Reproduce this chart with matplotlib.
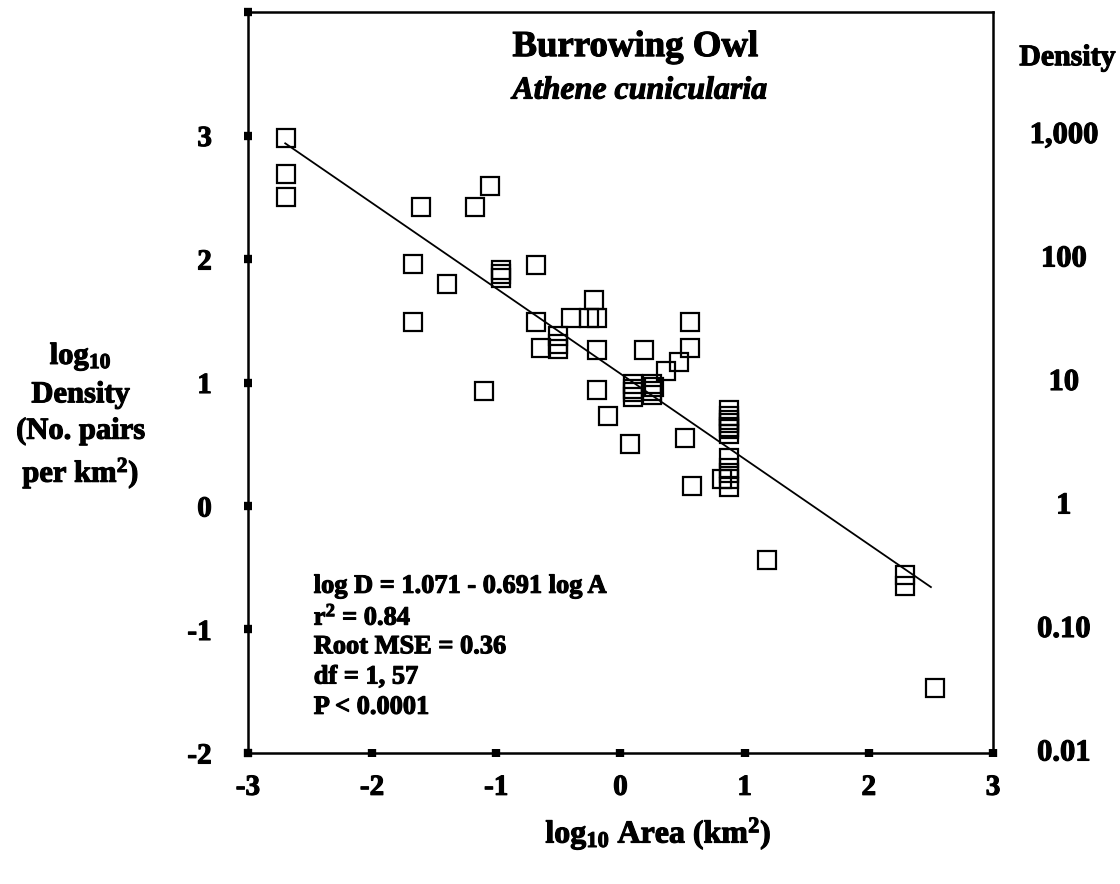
import matplotlib
matplotlib.use("Agg")
import matplotlib.pyplot as plt
import matplotlib.transforms as mtransforms
import matplotlib.patheffects as pe
import numpy as np

plt.rcParams["font.family"] = ["Liberation Serif", "DejaVu Serif"]
plt.rcParams["font.weight"] = "bold"
plt.rcParams["mathtext.fontset"] = "custom"
plt.rcParams["mathtext.rm"] = "Liberation Serif:bold"
plt.rcParams["mathtext.bf"] = "Liberation Serif:bold"
plt.rcParams["mathtext.it"] = "Liberation Serif:bold:italic"
plt.rcParams["axes.unicode_minus"] = False

# log10 area (km2) and log10 density (pairs per km2)
log_area = [
    -2.69, -2.69, -2.69, -1.61, -1.17, -1.05, -1.67, -1.40, -0.96, -0.96,
    -0.96, -0.68, -1.67, -0.68, -0.64, -0.50, -0.50, -0.50, -0.40, -0.25,
    -0.19, -0.21, -1.10, -0.19, -0.19, 0.19, -0.10, 0.08, 0.10, 0.10,
    0.10, 0.10, 0.25, 0.25, 0.25, 0.27, 0.37, 0.47, 0.56, 0.56,
    0.52, 0.58, 0.87, 0.87, 0.87, 0.87, 0.87, 0.87, 0.87, 0.87,
    0.87, 0.87, 0.87, 0.82, 1.18, 2.29, 2.29, 2.53, 0.87,
]
log_density = [
    2.98, 2.69, 2.50, 2.42, 2.42, 2.59, 1.96, 1.80, 1.91, 1.85,
    1.88, 1.95, 1.49, 1.49, 1.28, 1.38, 1.27, 1.31, 1.52, 1.52,
    1.52, 1.67, 0.93, 1.26, 0.94, 1.26, 0.73, 0.50, 0.99, 0.95,
    0.92, 0.88, 0.99, 0.93, 0.90, 0.96, 1.09, 1.17, 1.49, 1.28,
    0.55, 0.16, 0.78, 0.73, 0.70, 0.67, 0.64, 0.62, 0.58, 0.39,
    0.31, 0.22, 0.15, 0.22, -0.44, -0.56, -0.65, -1.47, 0.27,
]

intercept = 1.071
slope = -0.691
fit_range = [-2.70, 2.50]

x_ticks = [-3, -2, -1, 0, 1, 2, 3]
y_ticks = [-2, -1, 0, 1, 2, 3, 4]
y_tick_labels = ["-2", "-1", "0", "1", "2", "3", ""]
right_values = [3, 2, 1, 0, -1, -2]
right_labels = ["1,000", "100", "10", "1", "0.10", "0.01"]

stats_lines = [
    "log D = 1.071 - 0.691 log A",
    r"r$^{2}$ = 0.84",
    "Root MSE = 0.36",
    "df = 1, 57",
    "P < 0.0001",
]

fig = plt.figure(figsize=(11.2, 8.84), dpi=100)
ax = fig.add_axes([0.2214, 0.1482, 0.6652, 0.8382])

ax.plot(log_area, log_density, linestyle="none", marker="s", markersize=13,
        markerfacecolor="none", markeredgecolor="black", markeredgewidth=1.6)

fx = np.array(fit_range)
ax.plot(fx, intercept + slope * fx, color="black", linewidth=1.3)

ax.set_xlim(-3, 3)
ax.set_ylim(-2, 4)
ax.set_xticks(x_ticks)
ax.set_xticklabels([str(v) for v in x_ticks])
ax.set_yticks(y_ticks)
ax.set_yticklabels(y_tick_labels)

for s in ax.spines.values():
    s.set_linewidth(1.8)

ax.tick_params(axis="both", direction="inout", length=6, width=6,
               labelsize=21)
ax.tick_params(axis="x", pad=12)
ax.tick_params(axis="y", pad=23)

# right hand scale (back-transformed density)
trans = mtransforms.blended_transform_factory(ax.transAxes, ax.transData)
for v, lab in zip(right_values, right_labels):
    ax.text(1.095, v, lab, transform=trans, ha="center", va="center",
            fontsize=22, fontweight="bold", clip_on=False)
ax.text(1.10, 3.63, "Density", transform=trans, ha="center", va="center",
        fontsize=21.5, fontweight="bold", clip_on=False)

# titles
ax.text(-0.87, 3.72, "Burrowing Owl", ha="left", va="center",
        fontsize=26.5, fontweight="bold")
ax.text(-0.87, 3.36, "Athene cunicularia", ha="left", va="center",
        fontsize=23, fontweight="bold", style="italic")

# regression statistics
for i, line in enumerate(stats_lines):
    ax.text(-2.47, -0.65 - i * 0.245, line, ha="left", va="center",
            fontsize=19, fontweight="bold")

fig.text(0.072, 0.53, "log$_{10}$\nDensity\n(No. pairs\nper km$^{2}$)",
         ha="center", va="center", fontsize=22, fontweight="bold",
         linespacing=1.33)
fig.text(0.588, 0.057, "log$_{10}$ Area (km$^{2}$)", ha="center",
         va="center", fontsize=23, fontweight="bold")

# heavier strokes, the original type is very black
for t in fig.findobj(matplotlib.text.Text):
    t.set_path_effects([pe.withStroke(linewidth=0.8, foreground="black")])

fig.savefig("out.png", dpi=100)
